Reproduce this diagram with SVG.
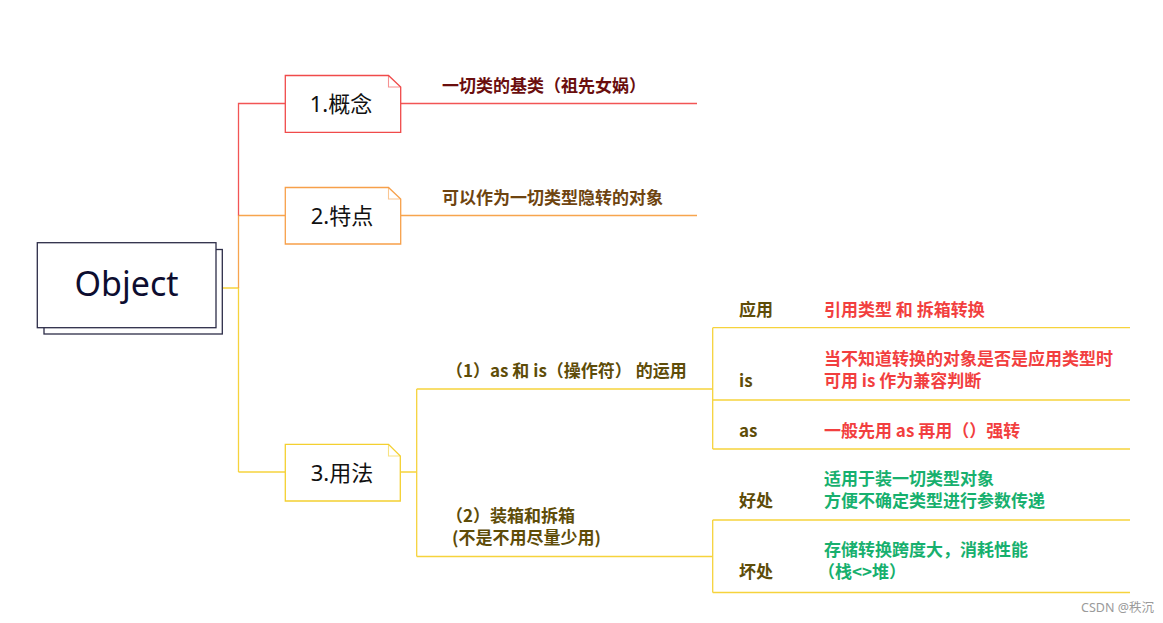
<svg xmlns="http://www.w3.org/2000/svg" width="1163" height="623" viewBox="0 0 1163 623">
<style>
.ln{fill:none;stroke-width:1.3}
.r{stroke:#f25555}
.o{stroke:#f7a54e}
.y{stroke:#f6d33c}
.node{fill:#fff;stroke-width:1.3}
.fold{fill:none;stroke-width:1.1;opacity:0.6}
.nt{font-family:"Noto Sans","Noto Sans CJK SC",sans-serif;font-size:22px;fill:#111;text-anchor:middle}
.b{font-family:"Noto Sans CJK SC","Noto Sans",sans-serif;font-size:17px;font-weight:bold}
.dr{fill:#6a0e0e}
.br{fill:#6e4410}
.ol{fill:#5e4c08}
.rd{fill:#f23f3f}
.gr{fill:#17b06e}
</style>
<rect width="1163" height="623" fill="#fff"/>
<g id="connectors">
<path class="ln y" d="M222,288 H238.5 V472"/>
<path class="ln o" d="M238.5,288 V215.5 H285"/>
<path class="ln r" d="M238.5,215.5 V103.5 H285"/>
<path class="ln r" d="M400.7,103.5 H697"/>
<path class="ln o" d="M400.7,215.5 H697"/>
<path class="ln y" d="M238.5,472 H285"/>
<path class="ln y" d="M400.5,472 H416.7 M416.7,389 V556.5 M416.7,389 H712.7 M416.7,556.5 H712.7"/>
<path class="ln y" d="M712.7,327.7 V449 M712.7,327.7 H1130 M712.7,400 H1130 M712.7,449 H1130"/>
<path class="ln y" d="M712.7,520 V592.5 M712.7,520 H1130 M712.7,592.5 H1130"/>
</g>
<g id="object">
<rect x="44" y="249.5" width="178.3" height="84.5" class="node" stroke="#2d2d48"/>
<rect x="37.3" y="242.7" width="178.7" height="85" class="node" stroke="#2d2d48"/>
<text x="126.5" y="296" font-family="Noto Sans, sans-serif" font-size="34" fill="#0d0d30" text-anchor="middle">Object</text>
</g>
<g id="concept">
<path class="node" stroke="#f04a4a" d="M285.3,75.5 H388.5 L400.7,87 V132.3 H285.3 Z"/>
<path class="fold" stroke="#f04a4a" d="M388.5,75.5 V87 H400.7"/>
<text class="nt" x="341" y="111.5">1.概念</text>
</g>
<g id="concept-text">
<text class="b dr" x="442" y="92">一切类的基类（祖先女娲）</text>
</g>
<g id="feature">
<path class="node" stroke="#f7a04a" d="M285.3,187.5 H388.5 L400.7,199 V244 H285.3 Z"/>
<path class="fold" stroke="#f7a04a" d="M388.5,187.5 V199 H400.7"/>
<text class="nt" x="342" y="223.5">2.特点</text>
</g>
<g id="feature-text">
<text class="b br" x="442" y="204">可以作为一切类型隐转的对象</text>
</g>
<g id="usage">
<path class="node" stroke="#f4d030" d="M285.3,444.3 H388.5 L400.3,456 V501 H285.3 Z"/>
<path class="fold" stroke="#f4d030" d="M388.5,444.3 V456 H400.3"/>
<text class="nt" x="342" y="480.5">3.用法</text>
</g>
<g id="as-is">
<text class="b ol" x="446" y="377">（1）as 和 is（操作符） 的运用</text>
</g>
<g id="boxing">
<text class="b ol" x="446" y="521.5">（2）装箱和拆箱</text>
<text class="b ol" x="452" y="544">(不是不用尽量少用)</text>
</g>
<g id="apply">
<text class="b ol" x="739" y="316">应用</text>
<text class="b rd" x="824" y="316">引用类型 和 拆箱转换</text>
</g>
<g id="is">
<text class="b ol" x="739" y="387">is</text>
<text class="b rd" x="824" y="365">当不知道转换的对象是否是应用类型时</text>
<text class="b rd" x="824" y="387">可用 is 作为兼容判断</text>
</g>
<g id="as">
<text class="b ol" x="739" y="437">as</text>
<text class="b rd" x="824" y="437">一般先用 as 再用（）强转</text>
</g>
<g id="good">
<text class="b ol" x="739" y="507">好处</text>
<text class="b gr" x="824" y="485">适用于装一切类型对象</text>
<text class="b gr" x="824" y="506.5">方便不确定类型进行参数传递</text>
</g>
<g id="bad">
<text class="b ol" x="739" y="578">坏处</text>
<text class="b gr" x="824" y="555.5">存储转换跨度大，消耗性能</text>
<text class="b gr" x="818" y="578">（栈&lt;&gt;堆）</text>
</g>
<text x="1081" y="612" font-family="Noto Sans, Noto Sans CJK SC, sans-serif" font-size="12.5" fill="#9a9a9a">CSDN @秩沉</text>
</svg>
